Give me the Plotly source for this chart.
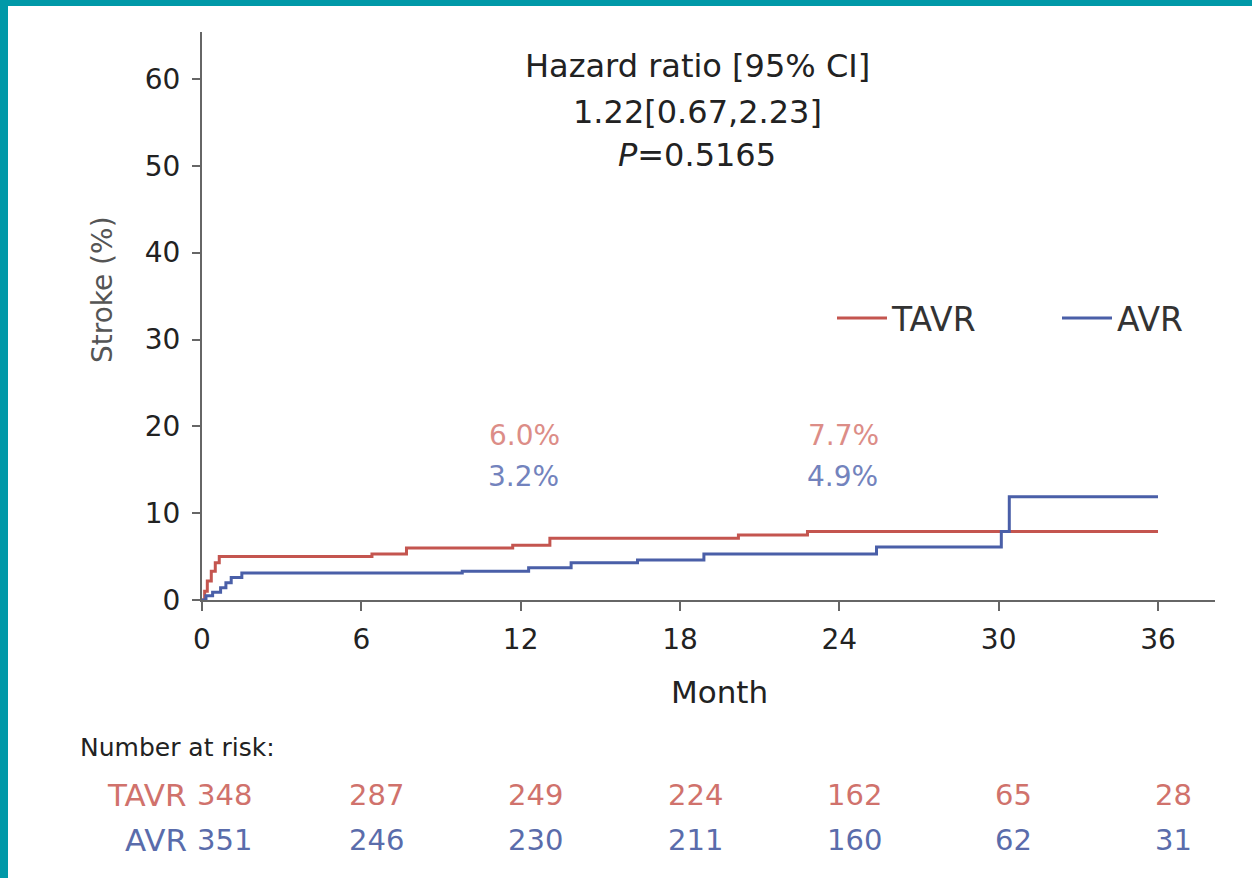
import plotly.graph_objects as go

# ---------------- data ----------------
tavr_months = [0, 0.1, 0.2, 0.35, 0.5, 0.65, 6.4, 7.7, 11.7, 13.1, 20.2, 22.8, 36]
tavr_stroke = [0, 1.0, 2.2, 3.3, 4.3, 5.0, 5.3, 6.0, 6.3, 7.1, 7.5, 7.9, 7.9]

avr_months = [0, 0.15, 0.4, 0.7, 0.9, 1.1, 1.5, 9.8, 12.3, 13.9, 16.4, 18.9, 25.4, 30.1, 30.4, 36]
avr_stroke = [0, 0.5, 0.9, 1.4, 2.0, 2.6, 3.1, 3.3, 3.7, 4.3, 4.6, 5.3, 6.1, 7.9, 11.9, 11.9]

milestone_months = [12, 24]
tavr_rates = ["6.0%", "7.7%"]
avr_rates = ["3.2%", "4.9%"]

risk_months = [0, 6, 12, 18, 24, 30, 36]
tavr_risk = [348, 287, 249, 224, 162, 65, 28]
avr_risk = [351, 246, 230, 211, 160, 62, 31]

x_ticks = [0, 6, 12, 18, 24, 30, 36]
y_ticks = [0, 10, 20, 30, 40, 50, 60]

hr_lines = ["Hazard ratio [95% CI]", "1.22[0.67,2.23]", "<i>P</i>=0.5165"]

# ---------------- style ----------------
W, H = 1252, 878
L, R, T, B = 202, 1215, 32, 600  # plot area pixel bounds
FONT = "DejaVu Sans"
RED = "#c4554f"
BLUE = "#4a5fa8"
RED_TXT = "#d0726c"
BLUE_TXT = "#5a6cab"
RED_LIGHT = "#dc8d87"
BLUE_LIGHT = "#7383bd"
TEAL = "#0099a8"
AXIS = "#666666"


def px(x):
    return (x - L) / (R - L)


def py(y):
    return (B - y) / (B - T)


fig = go.Figure()
fig.add_trace(go.Scatter(x=tavr_months, y=tavr_stroke, mode="lines", name="TAVR",
                         line=dict(color=RED, width=3, shape="hv")))
fig.add_trace(go.Scatter(x=avr_months, y=avr_stroke, mode="lines", name="AVR",
                         line=dict(color=BLUE, width=3, shape="hv")))

ann = []
# hazard ratio block
for i, (txt, yc) in enumerate(zip(hr_lines, [66, 112, 155])):
    ann.append(dict(text=txt, xref="paper", yref="paper", x=px(697), y=py(yc),
                    xanchor="center", yanchor="middle", showarrow=False,
                    font=dict(family=FONT, size=32, color="#222222")))

# milestone rates
for m, tr, ar in zip(milestone_months, tavr_rates, avr_rates):
    ann.append(dict(text=tr, xref="x", yref="paper", x=m, y=py(436), xshift=4,
                    showarrow=False, xanchor="center", yanchor="middle",
                    font=dict(family=FONT, size=28, color=RED_LIGHT)))
    ann.append(dict(text=ar, xref="x", yref="paper", x=m, y=py(476), xshift=3,
                    showarrow=False, xanchor="center", yanchor="middle",
                    font=dict(family=FONT, size=28, color=BLUE_LIGHT)))

# y title
ann.append(dict(text="Stroke (%)", xref="paper", yref="paper", x=px(102), y=py(290),
                textangle=-90, showarrow=False, xanchor="center", yanchor="middle",
                font=dict(family=FONT, size=28, color="#555555")))
# x title
ann.append(dict(text="Month", xref="paper", yref="paper", x=px(719), y=py(692),
                showarrow=False, xanchor="center", yanchor="middle",
                font=dict(family=FONT, size=31, color="#222222")))

# number at risk
ann.append(dict(text="Number at risk:", xref="paper", yref="paper", x=px(78), y=py(748),
                showarrow=False, xanchor="left", yanchor="middle",
                font=dict(family=FONT, size=25, color="#222222")))
for label, vals, yc, col in [("TAVR", tavr_risk, 795, RED_TXT), ("AVR", avr_risk, 840, BLUE_TXT)]:
    ann.append(dict(text=label, xref="paper", yref="paper", x=px(189), y=py(yc),
                    showarrow=False, xanchor="right", yanchor="middle",
                    font=dict(family=FONT, size=31, color=col)))
    for m, v in zip(risk_months, vals):
        if m == 0:
            ann.append(dict(text=str(v), xref="x", yref="paper", x=m, y=py(yc), xshift=-7,
                            showarrow=False, xanchor="left", yanchor="middle",
                            font=dict(family=FONT, size=29, color=col)))
        else:
            ann.append(dict(text=str(v), xref="x", yref="paper", x=m, y=py(yc), xshift=15,
                            showarrow=False, xanchor="center", yanchor="middle",
                            font=dict(family=FONT, size=29, color=col)))

shapes = [
    dict(type="rect", xref="paper", yref="paper", x0=px(0), x1=px(W + 5), y0=py(6), y1=py(-5),
         fillcolor=TEAL, line=dict(width=0), layer="below"),
    dict(type="rect", xref="paper", yref="paper", x0=px(-5), x1=px(8), y0=py(H + 5), y1=py(-5),
         fillcolor=TEAL, line=dict(width=0), layer="below"),
]

fig.update_layout(
    width=W, height=H,
    margin=dict(l=L, r=W - R, t=T, b=H - B, pad=0, autoexpand=False),
    paper_bgcolor="white", plot_bgcolor="white",
    showlegend=True,
    legend=dict(orientation="h", x=px(832), y=py(318), xanchor="left", yanchor="middle",
                font=dict(family=FONT, size=33, color="#333333"),
                bgcolor="rgba(0,0,0,0)", itemwidth=50, entrywidth=160, entrywidthmode="pixels"),
    annotations=ann,
    shapes=shapes,
    font=dict(family=FONT),
)
fig.update_xaxes(range=[0, (R - L) / (1158 - L) * 36], tickvals=x_ticks, ticktext=[str(t) for t in x_ticks],
                 showline=True, linecolor=AXIS, linewidth=2, ticks="outside", ticklen=9,
                 tickcolor=AXIS, tickwidth=1.5, showgrid=False, zeroline=False,
                 ticklabelstandoff=4,
                 tickfont=dict(family=FONT, size=28, color="#222222"))
fig.update_yaxes(range=[0, (B - T) / (B - 79) * 60], tickvals=y_ticks, ticktext=[str(t) for t in y_ticks],
                 showline=True, linecolor=AXIS, linewidth=2, ticks="outside", ticklen=8,
                 tickcolor=AXIS, tickwidth=1.5, showgrid=False, zeroline=False,
                 ticklabelstandoff=6,
                 tickfont=dict(family=FONT, size=28, color="#222222"))

fig.write_html("out.html")
